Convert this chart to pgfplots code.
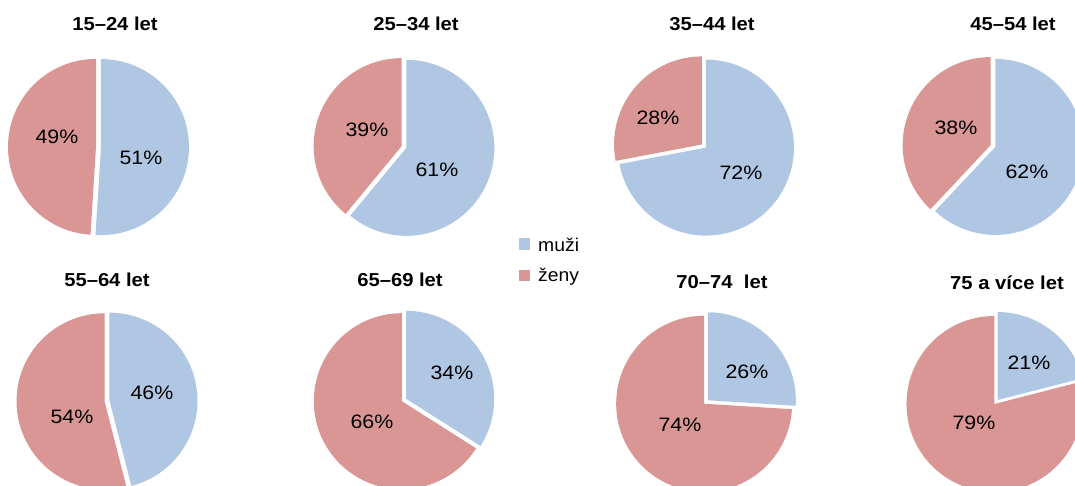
\documentclass[border=0pt]{standalone}
\usepackage{pgfplots}
\pgfplotsset{compat=1.18}
\usepackage{fontspec}
\setmainfont{Liberation Sans}
\definecolor{cblue}{RGB}{176,199,227}
\definecolor{cred}{RGB}{218,150,148}
% #1 cx, #2 cy (px from top), #3 muzi, #4 zeny, #5,#6 blue label, #7,#8 red label
\newcommand{\pie}[8]{%
  \fill[cblue] (axis cs:{#1+2.5*cos(90-1.8*#3)},{486-#2+2.5*sin(90-1.8*#3)}) -- ++(90:88bp)
     arc[start angle=90,end angle={90-3.6*#3},radius=88bp] -- cycle;
  \fill[cred] (axis cs:{#1+2.5*cos(90+1.8*#4)},{486-#2+2.5*sin(90+1.8*#4)}) -- ++(90:88bp)
     arc[start angle=90,end angle={90+3.6*#4},radius=88bp] -- cycle;
  \node[lab] at (axis cs:#5,{486-#6}) {#3\%};
  \node[lab] at (axis cs:#7,{486-#8}) {#4\%};
}
\newcommand{\ttl}[3]{\node[ttl] at (axis cs:#1,{486-#2}) {#3};}
\begin{document}
\begin{tikzpicture}[
  lab/.style={font=\fontsize{19.5}{21}\selectfont, inner sep=0pt, xscale=1.1},
  leg/.style={font=\fontsize{18.5}{21}\selectfont, inner sep=0pt, xscale=1.05},
  ttl/.style={font=\bfseries\fontsize{18.8}{21}\selectfont, inner sep=0pt, xscale=1.08}]
\begin{axis}[
  at={(0,0)}, anchor=south west,
  x=1bp, y=1bp, xmin=0, xmax=1075, ymin=0, ymax=486,
  scale only axis, hide axis, clip=true]
\pie{98.5}{147}{51}{49}{141}{158}{57}{137}
\pie{404}{147}{61}{39}{437}{170}{367}{130}
\pie{704}{146}{72}{28}{741}{173}{658}{118}
\pie{993}{146}{62}{38}{1027}{172}{956}{128}
\pie{107}{401}{46}{54}{152}{393}{72}{417}
\pie{404}{400}{34}{66}{452}{373}{372}{422}
\pie{706}{402}{26}{74}{747}{372}{680}{425}
\pie{996}{402}{21}{79}{1029}{363}{974}{423}
\ttl{115}{24}{15--24 let}
\ttl{416}{24}{25--34 let}
\ttl{712}{24}{35--44 let}
\ttl{1013}{24}{45--54 let}
\ttl{107}{280}{55--64 let}
\ttl{400}{280}{65--69 let}
\ttl{722}{282}{70--74\ \ let}
\ttl{1007}{283}{75 a více let}
\fill[cblue] (axis cs:519,{486-238}) rectangle (axis cs:530,{486-250});
\fill[cred] (axis cs:519,{486-270}) rectangle (axis cs:530,{486-281});
\node[leg, anchor=west] at (axis cs:538,{486-245}) {muži};
\node[leg, anchor=west] at (axis cs:538,{486-277}) {ženy};
\end{axis}
\pgfresetboundingbox
\path[use as bounding box] (0,0) rectangle (1075bp,486bp);
\end{tikzpicture}
\end{document}
